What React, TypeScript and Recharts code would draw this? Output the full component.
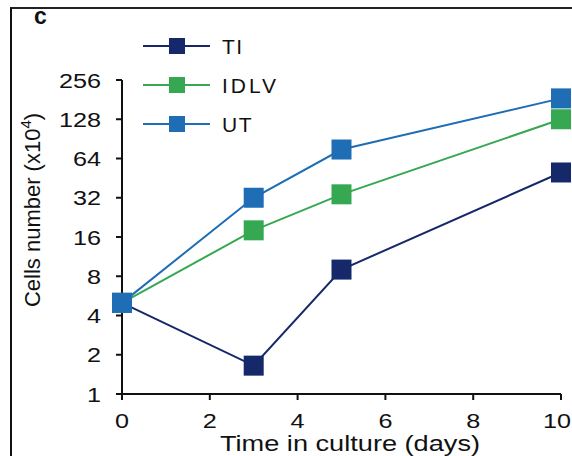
import React from "react";
import { LineChart, Line, XAxis, YAxis } from "recharts";

const days = [0, 3, 5, 10];
const tiCells = [5, 1.65, 9, 50];
const idlvCells = [5, 18, 34, 128];
const utCells = [5, 32, 75, 185];
const xTicks = [0, 2, 4, 6, 8, 10];
const yTicks = [1, 2, 4, 8, 16, 32, 64, 128, 256];

const series = [
  { key: "TI", values: tiCells, color: "#15296a" },
  { key: "IDLV", values: idlvCells, color: "#36a852" },
  { key: "UT", values: utCells, color: "#1f6db5" },
];

const data = days.map((d, i) => ({
  day: d,
  TI: tiCells[i],
  IDLV: idlvCells[i],
  UT: utCells[i],
}));

const FONT = "'Liberation Sans', Arial, sans-serif";
const STRETCH = 1.2; // the original figure's text is a little wide

function SquareDot(props: any) {
  const { cx, cy, fill } = props;
  if (cx == null || cy == null) return null;
  return <rect x={cx - 10} y={cy - 10} width={20} height={20} fill={fill} />;
}

function XTick(props: any) {
  const { x, y, payload } = props;
  const shift = payload.value === 10 ? -4 : 0;
  return (
    <text transform={`translate(${x + shift}, ${y + 26}) scale(${STRETCH}, 1)`} textAnchor="middle" fontSize={21} fill="#111" fontFamily={FONT}>
      {payload.value}
    </text>
  );
}

function YTick(props: any) {
  const { x, y, payload } = props;
  return (
    <text transform={`translate(${x - 13}, ${y + 7.5}) scale(${STRETCH}, 1)`} textAnchor="end" fontSize={21} fill="#111" fontFamily={FONT}>
      {payload.value}
    </text>
  );
}

// legend drawn by hand: line with a square in the middle
function LegendRows() {
  return (
    <g>
      {series.map((s, i) => {
        const y = 46 + i * 39;
        return (
          <g key={s.key}>
            <line x1={143} x2={210} y1={y} y2={y} stroke={s.color} strokeWidth={2} />
            <rect x={169} y={y - 8} width={16} height={16} fill={s.color} />
            <text x={222} y={y + 7.5} fontSize={21} fill="#111" fontFamily={FONT} letterSpacing={s.key === "IDLV" ? 3 : 1.5}>
              {s.key}
            </text>
          </g>
        );
      })}
    </g>
  );
}

export default function App() {
  return (
    <div style={{ position: "absolute", left: 0, top: 0, width: 572, height: 456, background: "#fff", fontFamily: FONT }}>
      <div style={{ position: "absolute", left: 10, top: 7, width: 561, height: 449, borderLeft: "2px solid #111", borderTop: "2px solid #222", borderRight: "1px solid #ccc" }} />
      <LineChart width={572} height={456} data={data} margin={{ top: 80, right: 11, bottom: 0, left: 0 }}>
        <text x={34} y={24} fontSize={23} fontWeight="bold" fill="#111" fontFamily={FONT}>c</text>
        <LegendRows />
        <XAxis
          dataKey="day"
          type="number"
          domain={[0, 10]}
          ticks={xTicks}
          interval={0}
          height={62}
          axisLine={{ stroke: "#111", strokeWidth: 2 }}
          tickLine={{ stroke: "#111", strokeWidth: 2 }}
          tickSize={6}
          tick={<XTick />}
          label={{
            content: () => (
              <text x={350} y={451} textAnchor="middle" fontSize={22} fill="#111" fontFamily={FONT} textLength={260} lengthAdjust="spacingAndGlyphs">
                Time in culture (days)
              </text>
            ),
          }}
        />
        <YAxis
          scale="log"
          domain={[1, 256]}
          ticks={yTicks}
          interval={0}
          allowDataOverflow
          width={122}
          axisLine={{ stroke: "#111", strokeWidth: 2 }}
          tickLine={{ stroke: "#111", strokeWidth: 2 }}
          tickSize={6}
          tick={<YTick />}
          label={{
            content: () => (
              <text transform="rotate(-90, 40, 210)" x={40} y={210} textAnchor="middle" fontSize={22} fill="#111" fontFamily={FONT}>
                Cells number (x10<tspan dy={-9} fontSize={15}>4</tspan><tspan dy={9}>)</tspan>
              </text>
            ),
          }}
        />
        {series.map((s) => (
          <Line
            key={s.key}
            dataKey={s.key}
            name={s.key}
            stroke={s.color}
            fill={s.color}
            strokeWidth={2}
            type="linear"
            dot={<SquareDot fill={s.color} />}
            activeDot={false}
            isAnimationActive={false}
          />
        ))}
      </LineChart>
    </div>
  );
}
